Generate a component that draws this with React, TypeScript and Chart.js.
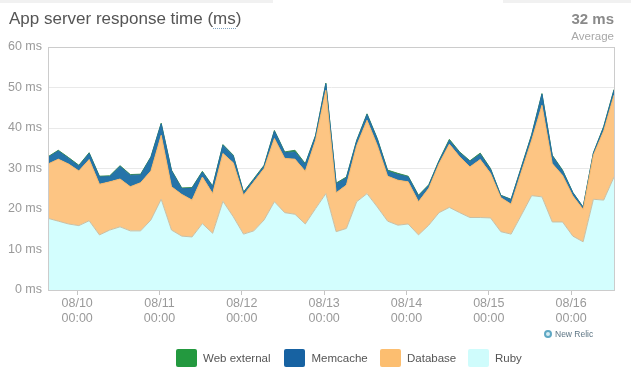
import React, { useEffect, useRef } from "react";
import { Chart, registerables } from "chart.js";

Chart.register(...registerables);

// ---- data ----
const dayLabels = ["08/10", "08/11", "08/12", "08/13", "08/14", "08/15", "08/16"];
const timeLabel = "00:00";
const dayTickHours = [0, 24, 48, 72, 96, 120, 144];
const sampleStartHour = -8.5; // first sample, hours relative to 08/10 00:00
const sampleStepHours = 3;

const ruby = [
  17.7, 17.0, 16.3, 15.9, 17.1, 13.6, 14.8, 15.6, 14.6, 14.6,
  17.3, 22.4, 14.8, 13.3, 13.1, 16.4, 14.0, 21.9, 18.1, 13.8,
  14.6, 17.3, 21.8, 19.1, 18.7, 16.3, 20.1, 23.8, 14.4, 15.2,
  21.8, 23.8, 20.5, 17.0, 16.0, 16.3, 13.6, 16.0, 19.1, 20.4,
  19.1, 17.9, 17.9, 17.8, 14.4, 13.8, 18.5, 23.3, 23.0, 16.8,
  16.8, 13.3, 11.9, 22.4, 22.2, 27.9,
];
const database = [
  13.4, 15.3, 14.8, 13.5, 15.1, 12.5, 11.9, 11.8, 10.9, 11.9,
  12.1, 15.8, 10.7, 10.3, 9.1, 11.5, 9.8, 11.8, 13.3, 9.6,
  12.1, 12.7, 15.6, 13.4, 13.6, 13.0, 16.9, 25.5, 9.6, 10.7,
  13.9, 18.1, 15.2, 11.1, 11.1, 10.4, 8.2, 9.1, 12.1, 15.6,
  13.8, 12.5, 14.3, 11.0, 8.4, 7.4, 10.7, 13.7, 22.6, 14.4,
  11.5, 9.9, 8.0, 10.9, 17.1, 20.2,
];
const memcache = [
  1.6, 2.0, 1.4, 1.2, 1.5, 1.8, 1.3, 3.1, 2.8, 1.9,
  3.3, 2.8, 3.9, 1.4, 2.9, 1.2, 1.7, 2.0, 1.7, 0.6,
  0.6, 0.6, 1.8, 1.4, 1.8, 1.7, 1.0, 1.6, 2.2, 1.8,
  1.1, 1.4, 1.5, 1.2, 1.4, 1.2, 1.4, 0.7, 0.6, 0.9,
  1.0, 1.3, 1.3, 1.0, 0.5, 1.1, 1.0, 1.2, 2.7, 1.9,
  1.1, 0.8, 0.5, 0.5, 0.9, 1.2,
];
const webExternal = [
  0.2, 0.2, 0.2, 0.2, 0.2, 0.2, 0.2, 0.2, 0.2, 0.2,
  0.2, 0.2, 0.2, 0.2, 0.2, 0.2, 0.2, 0.2, 0.2, 0.2,
  0.2, 0.2, 0.2, 0.2, 0.4, 0.2, 0.2, 0.2, 0.2, 0.2,
  0.2, 0.2, 0.2, 0.3, 0.3, 0.2, 0.2, 0.2, 0.2, 0.3,
  0.2, 0.2, 0.3, 0.2, 0.1, 0.1, 0.2, 0.2, 0.2, 0.2,
  0.2, 0.1, 0.1, 0.1, 0.2, 0.2,
];
const yTicks = [0, 10, 20, 30, 40, 50, 60];
const averageText = "32 ms";

const FONT = "'Liberation Sans', Arial, Helvetica, sans-serif";

const legendItems = [
  { label: "Web external", color: "#23993f", box: 176, text: 203 },
  { label: "Memcache", color: "#1762a2", box: 284, text: 311.5 },
  { label: "Database", color: "#fcbe70", box: 380, text: 407 },
  { label: "Ruby", color: "#cffcfc", box: 468, text: 495 },
];

const borderPlugin = {
  id: "plotBorder",
  afterDraw(chart: any) {
    const { ctx, chartArea } = chart;
    ctx.save();
    ctx.strokeStyle = "#cccccc";
    ctx.lineWidth = 1;
    ctx.strokeRect(
      Math.round(chartArea.left) + 0.5,
      Math.round(chartArea.top) + 0.5,
      Math.round(chartArea.right - chartArea.left),
      Math.round(chartArea.bottom - chartArea.top)
    );
    ctx.restore();
  },
};

function pts(values: number[]) {
  return values.map((v, i) => ({ x: sampleStartHour + i * sampleStepHours, y: v }));
}

export default function App() {
  const canvasRef = useRef<HTMLCanvasElement | null>(null);

  useEffect(() => {
    const canvas = canvasRef.current;
    if (!canvas) return;
    const n = ruby.length;
    const chart = new Chart(canvas, {
      type: "line",
      data: {
        datasets: [
          {
            label: "Ruby",
            data: pts(ruby),
            backgroundColor: "#d3fefe",
            borderColor: "#c9bfa4",
            borderWidth: 1,
            fill: "origin",
            pointRadius: 0,
            tension: 0,
          },
          {
            label: "Database",
            data: pts(database),
            backgroundColor: "#fdc583",
            borderColor: "#f5b86c",
            borderWidth: 1,
            fill: "-1",
            pointRadius: 0,
            tension: 0,
          },
          {
            label: "Memcache",
            data: pts(memcache),
            backgroundColor: "#2574a9",
            borderColor: "#226ea2",
            borderWidth: 1,
            fill: "-1",
            pointRadius: 0,
            tension: 0,
          },
          {
            label: "Web external",
            data: pts(webExternal),
            backgroundColor: "#2f9a47",
            borderColor: "#3a8c55",
            borderWidth: 1,
            fill: "-1",
            pointRadius: 0,
            tension: 0,
          },
        ],
      },
      options: {
        animation: false,
        responsive: false,
        events: [],
        layout: { padding: { left: 0, top: 47, right: 17, bottom: 0 } },
        plugins: {
          legend: { display: false },
          tooltip: { enabled: false },
          title: { display: false },
        },
        scales: {
          x: {
            type: "linear",
            min: sampleStartHour,
            max: sampleStartHour + (n - 1) * sampleStepHours,
            afterBuildTicks: (scale: any) => {
              scale.ticks = dayTickHours.map((v) => ({ value: v }));
            },
            afterFit: (scale: any) => {
              scale.height = 85;
            },
            grid: {
              drawOnChartArea: false,
              drawTicks: true,
              tickLength: 5,
              color: "#c4c4c4",
            },
            border: { color: "#cccccc" },
            ticks: {
              autoSkip: false,
              maxRotation: 0,
              padding: 1.5,
              color: "#9a9a9a",
              font: { family: FONT, size: 12.5 },
              callback: (value: any) => {
                const idx = dayTickHours.indexOf(Number(value));
                return idx >= 0 ? [dayLabels[idx], timeLabel] : "";
              },
            },
          },
          y: {
            stacked: true,
            min: 0,
            max: 60,
            afterBuildTicks: (scale: any) => {
              scale.ticks = yTicks.map((v) => ({ value: v }));
            },
            afterFit: (scale: any) => {
              scale.width = 48;
            },
            grid: {
              drawTicks: false,
              color: (c: any) => (c.tick && c.tick.value === 60 ? "#cccccc" : "#e9e9e9"),
            },
            border: { color: "#cccccc" },
            ticks: {
              padding: 6,
              color: "#9a9a9a",
              font: { family: FONT, size: 12.5 },
              callback: (value: any) => `${value} ms`,
            },
          },
        },
      },
      plugins: [borderPlugin],
    } as any);
    return () => chart.destroy();
  }, []);

  return (
    <div
      style={{
        position: "absolute",
        left: 0,
        top: 0,
        width: 631,
        height: 375,
        background: "#ffffff",
        overflow: "hidden",
        fontFamily: FONT,
      }}
    >
      <div style={{ position: "absolute", left: 0, top: 0, width: 273, height: 3, background: "#f1f1f1" }} />
      <div style={{ position: "absolute", left: 503, top: 0, width: 128, height: 3, background: "#f1f1f1" }} />
      <canvas
        ref={canvasRef}
        width={631}
        height={375}
        style={{ position: "absolute", left: 0, top: 0, width: 631, height: 375, display: "block" }}
      />
      <div
        style={{
          position: "absolute",
          left: 9,
          top: 8,
          fontSize: 17,
          lineHeight: "22px",
          color: "#555555",
          whiteSpace: "nowrap",
        }}
      >
        App server response time (
        <span style={{ borderBottom: "1px dotted #7fa3c0" }}>ms</span>)
      </div>
      <div
        style={{
          position: "absolute",
          right: 17,
          top: 10,
          fontSize: 15,
          fontWeight: "bold",
          lineHeight: "18px",
          color: "#8a8a8a",
          textAlign: "right",
          whiteSpace: "nowrap",
        }}
      >
        {averageText}
      </div>
      <div
        style={{
          position: "absolute",
          right: 17,
          top: 29,
          fontSize: 11.5,
          lineHeight: "14px",
          color: "#a8a8a8",
          textAlign: "right",
          whiteSpace: "nowrap",
        }}
      >
        Average
      </div>
      <div
        style={{
          position: "absolute",
          left: 544,
          top: 330,
          width: 8,
          height: 8,
          borderRadius: "50%",
          boxSizing: "border-box",
          border: "2px solid #5fa8c4",
          background: "#d7ecf3",
        }}
      />
      <div
        style={{
          position: "absolute",
          left: 555,
          top: 328,
          fontSize: 8.5,
          lineHeight: "12px",
          color: "#5d7584",
          whiteSpace: "nowrap",
        }}
      >
        New Relic
      </div>
      {legendItems.map((it) => (
        <React.Fragment key={it.label}>
          <div
            style={{
              position: "absolute",
              left: it.box,
              top: 349,
              width: 21,
              height: 18,
              borderRadius: 2,
              background: it.color,
            }}
          />
          <div
            style={{
              position: "absolute",
              left: it.text,
              top: 350,
              fontSize: 11.5,
              lineHeight: "16px",
              color: "#555555",
              whiteSpace: "nowrap",
            }}
          >
            {it.label}
          </div>
        </React.Fragment>
      ))}
    </div>
  );
}
